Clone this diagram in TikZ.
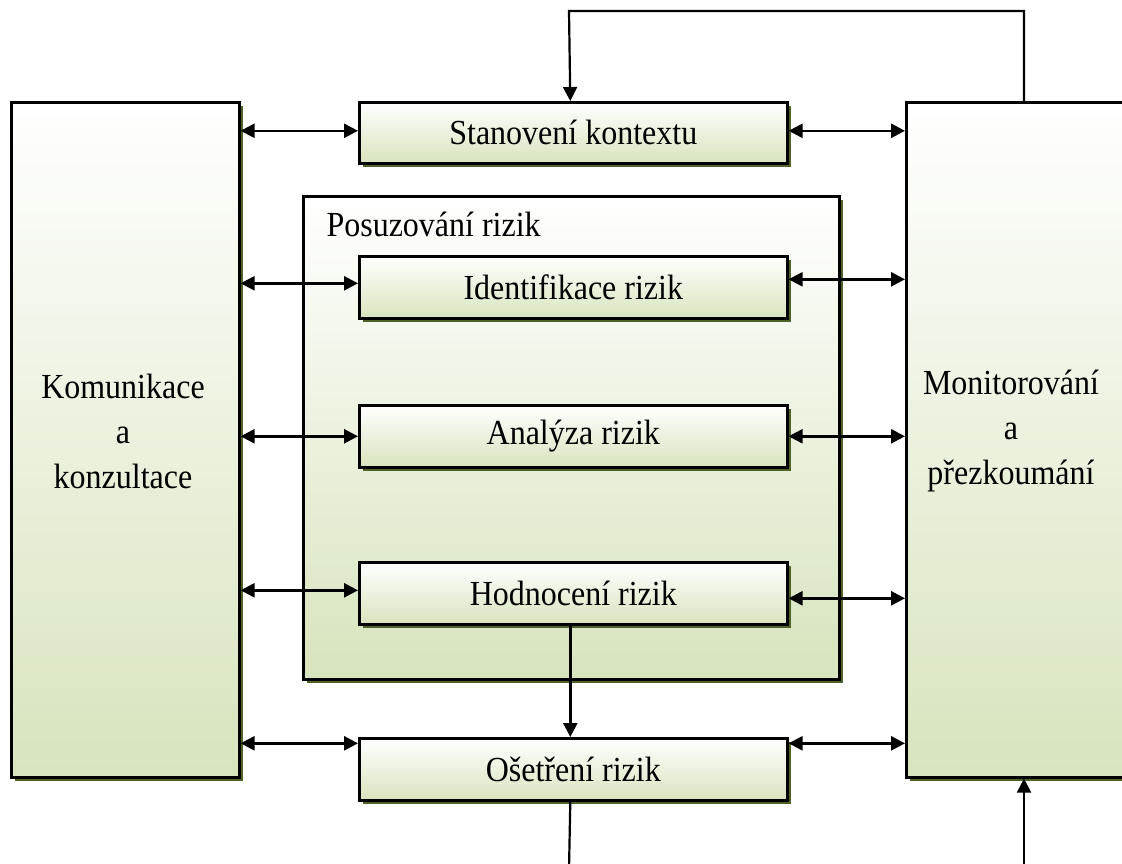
\documentclass[tikz,border=0pt]{standalone}
\usepackage{fontspec}
\setmainfont{Liberation Serif}
\usetikzlibrary{arrows.meta,shadows}
\definecolor{boxgreen}{HTML}{D7E4BD}
\definecolor{shadowgreen}{HTML}{4F6228}
\newcommand{\tallt}[1]{\scalebox{1}[1.1]{#1}}
\tikzset{
  gbox/.style={draw=black, line width=2.6pt, rectangle, top color=white, bottom color=boxgreen,
    drop shadow={shadow xshift=3.5pt, shadow yshift=-3.5pt, fill=shadowgreen, opacity=1},
    inner sep=0pt, anchor=north west},
  lbl/.style={font=\fontsize{32}{45}\selectfont, align=center},
  biarrow/.style={line width=2.6pt, {Triangle[length=14pt,width=14pt]}-{Triangle[length=14pt,width=14pt]}},
  onearrow/.style={line width=2.6pt, -{Triangle[length=14pt,width=14pt]}},
  fline/.style={line width=2.2pt}
}
\begin{document}
\begin{tikzpicture}[x=1pt,y=-1pt]
\useasboundingbox (0,0) rectangle (1122,863);
% big side boxes
\node[gbox, minimum width=228pt, minimum height=675pt] (kom) at (10,101) {};
\node[lbl] (komtext) at (123,431) {\tallt{Komunikace}\\\tallt{a}\\\tallt{konzultace}};
\node[gbox, minimum width=230pt, minimum height=675pt] (mon) at (905,101) {};
\node[lbl] (montext) at (1011,431) {\tallt{Monitorování}\\\tallt{a}\\\tallt{přezkoumání}};
% assessment frame
\node[gbox, minimum width=536pt, minimum height=483pt] (pos) at (302,195) {};
\node[lbl, anchor=west] (postext) at (323,224) {\tallt{Posuzování rizik}};
% step boxes
\node[gbox, minimum width=428pt, minimum height=61pt, lbl] (sta) at (358,101) {\tallt{Stanovení kontextu}};
\node[gbox, minimum width=428pt, minimum height=62pt, lbl] (ide) at (358,255) {\tallt{Identifikace rizik}};
\node[gbox, minimum width=428pt, minimum height=62pt, lbl] (ana) at (358,404) {\tallt{Analýza rizik}};
\node[gbox, minimum width=428pt, minimum height=62pt, lbl] (hod) at (358,561) {\tallt{Hodnocení rizik}};
\node[gbox, minimum width=428pt, minimum height=62pt, lbl] (ose) at (358,737) {\tallt{Ošetření rizik}};
% helper coordinates
\coordinate (sl) at ([yshift=2pt]sta.west);
\coordinate (sr) at ([yshift=2pt]sta.east);
\coordinate (il) at ([yshift=4pt]ide.west);
\coordinate (ir) at ([yshift=8pt]ide.east);
\coordinate (hl) at ([yshift=3pt]hod.west);
\coordinate (hr) at ([yshift=-5pt]hod.east);
\coordinate (ol) at ([yshift=26pt]ose.west);
\coordinate (or) at ([yshift=26pt]ose.east);
\coordinate (stop) at ([xshift=-3pt]sta.north);
\coordinate (mtop) at ([xshift=119pt]mon.north west);
\coordinate (mbot) at ([xshift=119pt]mon.south west);
\coordinate (hbot) at ([xshift=-3pt]hod.south);
\coordinate (obot) at ([xshift=-3pt]ose.south);
\coordinate (tl) at (569,11);
\coordinate (tr) at (1024,11);
\coordinate (bl) at (569,870);
\coordinate (br) at (1024,870);
% left connectors
\draw[biarrow] (kom.east |- sl) -- (sl);
\draw[biarrow] (kom.east |- il) -- (il);
\draw[biarrow] (kom.east |- ana.west) -- (ana.west);
\draw[biarrow] (kom.east |- hl) -- (hl);
\draw[biarrow] (kom.east |- ol) -- (ol);
% right connectors
\draw[biarrow] (sr) -- (mon.west |- sr);
\draw[biarrow] (ir) -- (mon.west |- ir);
\draw[biarrow] (ana.east) -- (mon.west |- ana.east);
\draw[biarrow] (hr) -- (mon.west |- hr);
\draw[biarrow] (or) -- (mon.west |- or);
% vertical flow
\draw[onearrow] (hbot) -- (hbot |- ose.north);
\draw[fline, -{Triangle[length=14pt,width=14pt]}] (mtop) -- (tr) -- (tl) -- (stop);
\draw[fline] (obot) -- (bl);
\draw[fline, -{Triangle[length=14pt,width=14pt]}] (br) -- (mbot);
\end{tikzpicture}
\end{document}
